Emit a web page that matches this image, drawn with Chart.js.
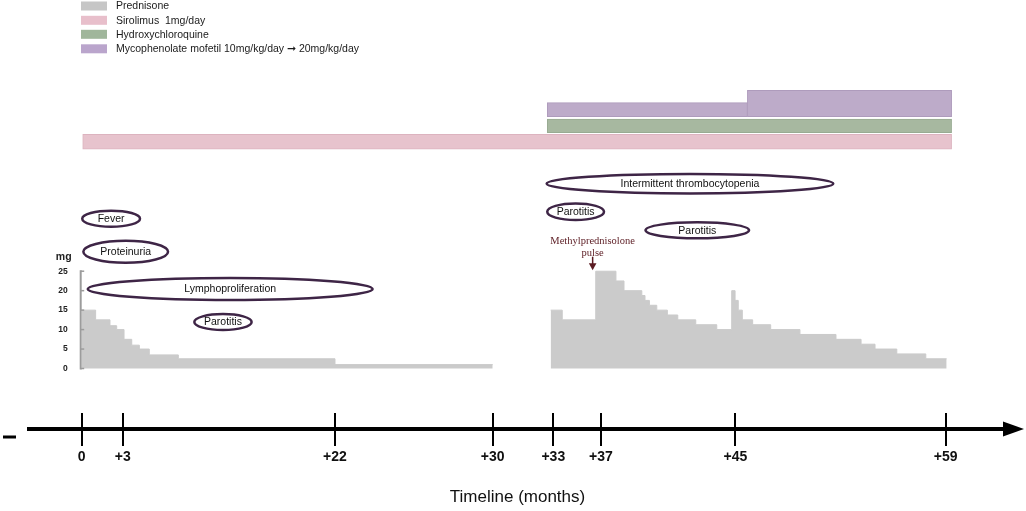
<!DOCTYPE html>
<html>
<head>
<meta charset="utf-8">
<script src="https://cdn.jsdelivr.net/npm/chart.js@4/dist/chart.umd.min.js"></script>
<style>
html,body{margin:0;padding:0;background:#fff;}
#wrap{width:1026px;height:511px;position:relative;}
</style>
</head>
<body>
<div id="wrap"><canvas id="c"></canvas></div>
<script>
// ---------------- DATA ----------------
// Timeline ticks (months) and their labels
const MONTH_TICKS = [0, 3, 22, 30, 33, 37, 45, 59];
const MONTH_TICK_LABELS = ['0', '+3', '+22', '+30', '+33', '+37', '+45', '+59'];

// Prednisone dose steps (month where a dose starts, dose in mg); last point closes the period
const PRED1_MONTHS = [0, 1.02, 2.07, 2.56, 3.12, 3.81, 4.49, 5.38, 7.98, 22, 30];
const PRED1_MG     = [15, 12.5, 11, 10, 7.5, 6, 5, 3.5, 2.5, 1, 1];
const PRED2_MONTHS = [32.87, 33.75, 36.56, 37.89, 38.37, 39.43, 39.62, 39.88, 40.32, 40.95, 41.57, 42.64, 43.89,
                      44.78, 44.98, 45.19, 45.46, 46.15, 47.35, 49.3, 51.7, 53.37, 54.3, 55.75, 57.68, 59.07];
const PRED2_MG     = [15, 12.5, 25, 22.5, 20, 18.75, 17.5, 16.25, 15, 13.75, 12.5, 11.25, 10,
                      20, 17.5, 15, 12.5, 11.25, 10, 8.75, 7.5, 6.25, 5, 3.75, 2.5, 2.5];
const MG_TICKS = [0, 5, 10, 15, 20, 25];

// Other drugs: [start month, end month]
const SIROLIMUS_PERIOD = [0, 59.4];
const HCQ_PERIOD = [32.7, 59.4];
const MMF10_PERIOD = [32.7, 45.8];
const MMF20_PERIOD = [45.8, 59.4];

// Legend
const LEGEND_LABELS = ['Prednisone', 'Sirolimus  1mg/day', 'Hydroxychloroquine',
                       'Mycophenolate mofetil 10mg/kg/day \u279E 20mg/kg/day'];

// Clinical events (month ranges)
const EVENT_LABELS = ['Fever', 'Proteinuria', 'Lymphoproliferation', 'Parotitis',
                      'Intermittent thrombocytopenia', 'Parotitis', 'Parotitis'];
const EVENT_START = [0.04, 0.12, 0.44, 9.41, 32.67, 32.7, 39.65];
const EVENT_END   = [4.55, 7.06, 23.91, 14.54, 51.52, 37.18, 45.91];

// Methylprednisolone pulse annotation
const PULSE_MONTH = 36.3;
const PULSE_TEXT = ['Methylprednisolone', 'pulse'];

// ---------------- LAYOUT / STYLE ----------------
// where each month tick sits along the (non-uniform) drawn timeline, as a fraction of its length
const TICK_FRACTIONS = [0.05394, 0.09590, 0.31320, 0.47462, 0.53664, 0.58546, 0.72303, 0.93818];
const EVENT_LANE = [50.98, 58.67, 67.37, 75.06, 42.82, 49.35, 53.68];   // % of plot height
const EVENT_RY = [8, 11, 11, 8, 9.7, 8.3, 8];
const LANE = {siro: 33.03, hcq: 29.35, mmf10: 25.57, mmf20: 24.13};
const THICK = {siro: 14.7, hcq: 13.7, mmf10: 14, mmf20: 26.4};
const COLORS = {
  pred: '#cbcbcb', siro: '#e7c3cd', hcq: '#a7b8a0', mmf: '#bdabc9',
  legend: ['#c6c6c6', '#e8bfcb', '#a0b69b', '#baa5cc'],
  ellipse: '#3e2546', pulse: '#5b1b22'
};

// ---------------- piecewise timeline scale ----------------
function monthToFrac(v) {
  const a = MONTH_TICKS, f = TICK_FRACTIONS, n = a.length - 1;
  let i = 0;
  if (v <= a[0]) i = 0;
  else if (v >= a[n]) i = n - 1;
  else { while (i < n - 1 && v > a[i + 1]) i++; }
  return f[i] + (v - a[i]) * (f[i + 1] - f[i]) / (a[i + 1] - a[i]);
}
function fracToMonth(fr) {
  const a = MONTH_TICKS, f = TICK_FRACTIONS, n = a.length - 1;
  let i = 0;
  if (fr <= f[0]) i = 0;
  else if (fr >= f[n]) i = n - 1;
  else { while (i < n - 1 && fr > f[i + 1]) i++; }
  return a[i] + (fr - f[i]) * (a[i + 1] - a[i]) / (f[i + 1] - f[i]);
}
class PiecewiseScale extends Chart.LinearScale {
  buildTicks() { return MONTH_TICKS.map(v => ({value: v})); }
  getPixelForValue(v) { return this.left + monthToFrac(v) * this.width; }
  getValueForPixel(p) { return fracToMonth((p - this.left) / this.width); }
}
PiecewiseScale.id = 'piecewise';
PiecewiseScale.defaults = Chart.LinearScale.defaults;
Chart.register(PiecewiseScale);

const FONT = "'Liberation Sans', Arial, Helvetica, sans-serif";
Chart.defaults.font.family = FONT;

function pts(ms, vs) { return ms.map((m, i) => ({x: m, y: vs[i]})); }

// ---------------- decorations plugin ----------------
const decor = {
  id: 'decor',
  afterDatasetsDraw(chart) {
    const ctx = chart.ctx, xs = chart.scales.x, ys = chart.scales.y, yl = chart.scales.yLane;
    ctx.save();
    // mg axis
    const ax = xs.getPixelForValue(0) - 1;
    ctx.strokeStyle = '#9c9c9c';
    ctx.lineWidth = 2;
    ctx.beginPath();
    ctx.moveTo(ax, ys.getPixelForValue(0) + 1);
    ctx.lineTo(ax, ys.getPixelForValue(MG_TICKS[MG_TICKS.length - 1]) - 1);
    ctx.stroke();
    ctx.fillStyle = '#222';
    ctx.font = "bold 8.5px " + FONT;
    ctx.textAlign = 'right';
    ctx.textBaseline = 'middle';
    MG_TICKS.forEach(t => {
      const y = ys.getPixelForValue(t);
      ctx.beginPath(); ctx.lineWidth = 1.5;
      ctx.moveTo(ax, y); ctx.lineTo(ax + 3.5, y); ctx.stroke();
      ctx.fillText(String(t), ax - 13, y);
    });
    ctx.font = "bold 10.5px " + FONT;
    ctx.textAlign = 'center';
    ctx.fillText('mg', ax - 17, ys.getPixelForValue(MG_TICKS[MG_TICKS.length - 1]) - 14);

    // event ellipses
    EVENT_LABELS.forEach((lab, i) => {
      const x1 = xs.getPixelForValue(EVENT_START[i]), x2 = xs.getPixelForValue(EVENT_END[i]);
      const cy = yl.getPixelForValue(EVENT_LANE[i]);
      ctx.beginPath();
      ctx.ellipse((x1 + x2) / 2, cy, (x2 - x1) / 2, EVENT_RY[i], 0, 0, Math.PI * 2);
      ctx.lineWidth = 2.5;
      ctx.strokeStyle = COLORS.ellipse;
      ctx.stroke();
      ctx.fillStyle = '#111';
      ctx.font = "10.5px " + FONT;
      ctx.textAlign = 'center';
      ctx.textBaseline = 'middle';
      ctx.fillText(lab, (x1 + x2) / 2, cy + 0.5);
    });

    // pulse annotation
    const px = xs.getPixelForValue(PULSE_MONTH);
    const tip = ys.getPixelForValue(25) - 1;
    ctx.fillStyle = COLORS.pulse;
    ctx.strokeStyle = COLORS.pulse;
    ctx.font = "10.5px 'Liberation Serif', 'Times New Roman', serif";
    ctx.textAlign = 'center';
    ctx.textBaseline = 'middle';
    ctx.fillText(PULSE_TEXT[0], px, tip - 29);
    ctx.fillText(PULSE_TEXT[1], px, tip - 17);
    ctx.lineWidth = 1.5;
    ctx.beginPath(); ctx.moveTo(px, tip - 13.5); ctx.lineTo(px, tip - 5); ctx.stroke();
    ctx.beginPath(); ctx.moveTo(px - 3.8, tip - 7); ctx.lineTo(px + 3.8, tip - 7); ctx.lineTo(px, tip); ctx.closePath(); ctx.fill();
    ctx.restore();
  },
  afterDraw(chart) {
    const ctx = chart.ctx, xs = chart.scales.x, area = chart.chartArea;
    ctx.save();
    // upper halves of timeline ticks
    ctx.strokeStyle = '#000';
    ctx.lineWidth = 2;
    MONTH_TICKS.forEach(m => {
      const x = Math.round(xs.getPixelForValue(m));
      ctx.beginPath(); ctx.moveTo(x, area.bottom - 16); ctx.lineTo(x, area.bottom); ctx.stroke();
    });
    // arrow head
    ctx.fillStyle = '#000';
    ctx.beginPath();
    ctx.moveTo(area.right - 3, area.bottom - 7.5);
    ctx.lineTo(area.right + 18, area.bottom);
    ctx.lineTo(area.right - 3, area.bottom + 7.5);
    ctx.closePath(); ctx.fill();
    // small dash at far left
    ctx.fillRect(3, area.bottom + 6.5, 13, 3);
    // legend
    const rows = [6, 20.3, 34.3, 48.8];
    ctx.font = "10.5px " + FONT;
    ctx.textAlign = 'left';
    ctx.textBaseline = 'middle';
    LEGEND_LABELS.forEach((lab, i) => {
      ctx.fillStyle = COLORS.legend[i];
      ctx.fillRect(81, rows[i] - 4.5, 26, 9);
      ctx.fillStyle = '#1a1a1a';
      ctx.fillText(lab, 116, rows[i] + 0.5);
    });
    ctx.restore();
  }
};

// ---------------- chart ----------------
const barDs = (label, period, lane, thick, color, border) => ({
  type: 'bar', label, indexAxis: 'y', xAxisID: 'x', yAxisID: 'yLane',
  data: [{x: period, y: lane}],
  backgroundColor: color, borderColor: border, borderWidth: 1, borderSkipped: false,
  barThickness: thick, grouped: false, order: 2
});

new Chart(document.getElementById('c'), {
  type: 'line',
  data: {
    datasets: [
      {label: 'Prednisone', data: pts(PRED1_MONTHS, PRED1_MG), stepped: 'before', fill: 'origin',
       backgroundColor: COLORS.pred, borderColor: COLORS.pred, borderWidth: 1, pointRadius: 0,
       xAxisID: 'x', yAxisID: 'y', order: 1},
      {label: 'Prednisone ', data: pts(PRED2_MONTHS, PRED2_MG), stepped: 'before', fill: 'origin',
       backgroundColor: COLORS.pred, borderColor: COLORS.pred, borderWidth: 1, pointRadius: 0,
       xAxisID: 'x', yAxisID: 'y', order: 1},
      barDs('Sirolimus 1mg/day', SIROLIMUS_PERIOD, LANE.siro, THICK.siro, COLORS.siro, '#dcb3bf'),
      barDs('Hydroxychloroquine', HCQ_PERIOD, LANE.hcq, THICK.hcq, COLORS.hcq, '#98ab92'),
      barDs('Mycophenolate mofetil 10mg/kg/day', MMF10_PERIOD, LANE.mmf10, THICK.mmf10, COLORS.mmf, '#ae9bbc'),
      barDs('Mycophenolate mofetil 20mg/kg/day', MMF20_PERIOD, LANE.mmf20, THICK.mmf20, COLORS.mmf, '#ae9bbc')
    ]
  },
  options: {
    responsive: true, maintainAspectRatio: false, animation: false, devicePixelRatio: 1,
    layout: {padding: {left: 29, right: 20, top: 0, bottom: 0}},
    plugins: {legend: {display: false}, tooltip: {enabled: false}},
    elements: {line: {tension: 0}},
    scales: {
      x: {
        type: 'piecewise', position: 'bottom', min: -3, max: 62, offset: false,
        border: {display: true, color: '#000', width: 4},
        grid: {display: true, drawOnChartArea: false, drawTicks: true, tickLength: 17,
               tickWidth: 2, tickColor: '#000', color: '#000', lineWidth: 2},
        ticks: {autoSkip: false, maxRotation: 0, minRotation: 0, padding: 3, color: '#111',
                font: {family: FONT, size: 14, weight: 'bold'},
                callback: (v, i) => MONTH_TICK_LABELS[i]},
        title: {display: true, text: 'Timeline (months)', color: '#111',
                font: {family: FONT, size: 17}, padding: {top: 0, bottom: 3}},
        afterFit: s => { s.height = 82; }
      },
      y: {type: 'linear', display: false, min: -15.54, max: 94.68},
      yLane: {type: 'linear', display: false, min: 0, max: 100, reverse: true, offset: false}
    }
  },
  plugins: [decor]
});
</script>
</body>
</html>
